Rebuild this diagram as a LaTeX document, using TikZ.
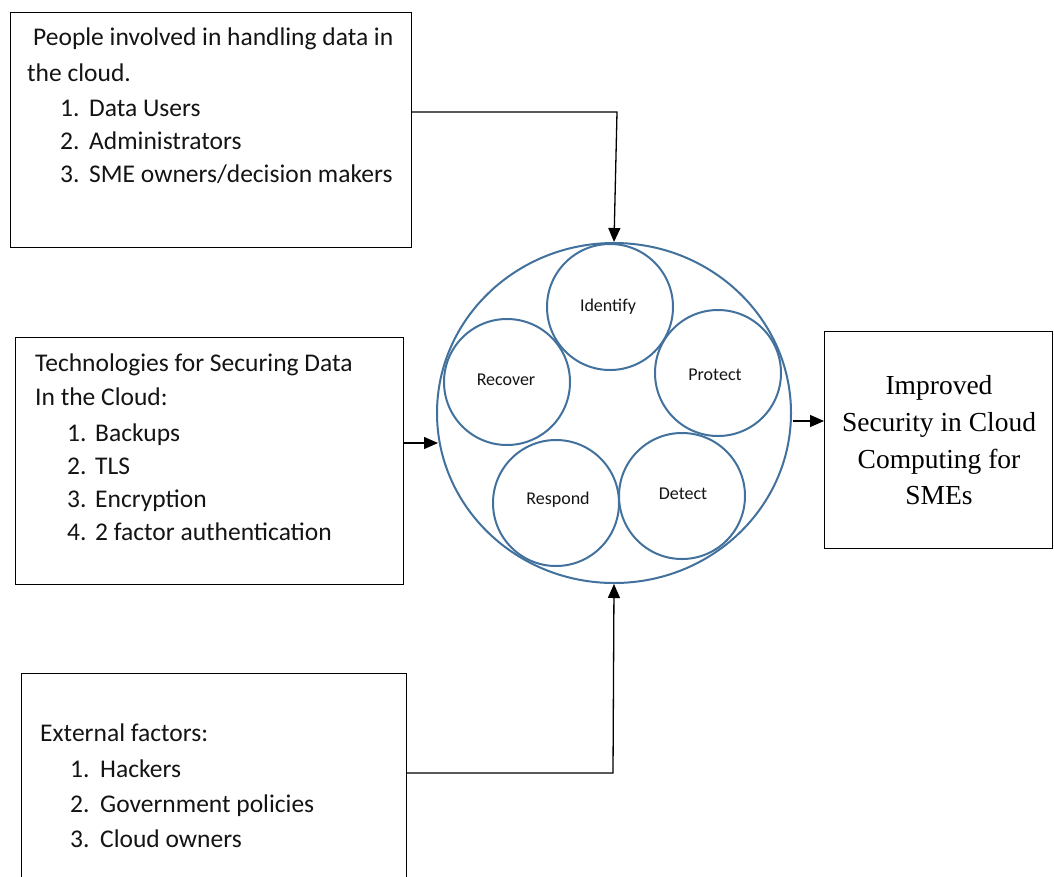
\documentclass[tikz,border=0pt]{standalone}
\usepackage{fontspec}
\setmainfont{Carlito}
\newfontfamily\timesf{Liberation Serif}
\usetikzlibrary{arrows.meta,shapes.geometric}
\definecolor{cblue}{RGB}{65,113,156}
\begin{document}
\begin{tikzpicture}[x=1pt,y=-1pt,
  box/.style={draw=black, line width=1.2pt, rectangle, inner sep=0pt, anchor=north west},
  txt/.style={anchor=base west, inner sep=0pt, font=\fontsize{25.5}{30}\selectfont, text=black!92},
  ring/.style={draw=cblue, line width=2pt, circle, minimum size=126pt, inner sep=0pt},
  lbl/.style={anchor=base, inner sep=0pt, font=\fontsize{18}{22}\selectfont, text=black!92},
  rtxt/.style={anchor=base, inner sep=0pt, font=\timesf\fontsize{27.5}{33}\selectfont},
  conn/.style={line width=1.3pt, draw=black},
  tip/.style={-{Triangle[length=14pt,width=12pt]}}
]
\useasboundingbox (0,0) rectangle (1054,876);
\clip (0,0) rectangle (1054,876);
\fill[white] (0,0) rectangle (1054,876);

% boxes
\node[box, minimum width=401pt, minimum height=235pt] (box1) at (10,12) {};
\node[box, minimum width=388pt, minimum height=247pt] (box2) at (15,337) {};
\node[box, minimum width=385pt, minimum height=250pt] (box3) at (21,673) {};
\node[box, minimum width=228pt, minimum height=217pt] (box4) at (824,331) {};

% big circle and small circles
\node[ellipse, draw=cblue, line width=2pt, minimum width=354pt, minimum height=340pt, inner sep=0pt] (core) at (614,413) {};
\node[ring] (cid) at (610,307) {};
\node[ring] (cpr) at (718,373) {};
\node[ring] (cde) at (682,496) {};
\node[ring] (cre) at (556,503) {};
\node[ring] (crc) at (507,382) {};

\node[lbl] (lid) at (608,311) {Identify};
\node[lbl] (lpr) at (715,380) {Protect};
\node[lbl] (lde) at (683,499) {Detect};
\node[lbl] (lre) at (558,504) {Respond};
\node[lbl] (lrc) at (506,385) {Recover};

% box 1 text
\node[txt] (a1) at (33,45) {People involved in handling data in};
\node[txt] (a2) at (27,81) {the cloud.};
\node[txt] (a3n) at (60,116) {1.};
\node[txt] (a3) at (89,116) {Data Users};
\node[txt] (a4n) at (60,149) {2.};
\node[txt] (a4) at (89,149) {Administrators};
\node[txt] (a5n) at (60,182) {3.};
\node[txt] (a5) at (89,182) {SME owners/decision makers};

% box 2 text
\node[txt] (b1) at (35,371) {Technologies for Securing Data};
\node[txt] (b2) at (35,405) {In the Cloud:};
\node[txt] (b3n) at (67,441) {1.};
\node[txt] (b3) at (95,441) {Backups};
\node[txt] (b4n) at (67,474) {2.};
\node[txt] (b4) at (95,474) {TLS};
\node[txt] (b5n) at (67,507) {3.};
\node[txt] (b5) at (95,507) {Encryption};
\node[txt] (b6n) at (67,540) {4.};
\node[txt] (b6) at (95,540) {2 factor authentication};

% box 3 text
\node[txt] (c1) at (40,741) {External factors:};
\node[txt] (c2n) at (70,777) {1.};
\node[txt] (c2) at (100,777) {Hackers};
\node[txt] (c3n) at (70,812) {2.};
\node[txt] (c3) at (100,812) {Government policies};
\node[txt] (c4n) at (70,847) {3.};
\node[txt] (c4) at (100,847) {Cloud owners};

% box 4 text
\node[rtxt] (d1) at (939,394) {Improved};
\node[rtxt] (d2) at (939,431) {Security in Cloud};
\node[rtxt] (d3) at (939,468) {Computing for};
\node[rtxt] (d4) at (939,504) {SMEs};

% connectors
\coordinate (tbend) at (617,112);
\draw[conn, tip] (box1.north east |- tbend) -- (tbend) -- (core.north);
\coordinate (lin) at (438,443);
\draw[conn, tip] (box2.north east |- lin) -- (lin);
\coordinate (rout) at (793,421);
\draw[conn, tip] (rout) -- (box4.west |- rout);
\coordinate (bbend) at (613,773);
\draw[conn, tip] (box3.north east |- bbend) -- (bbend) -- (core.south);
\end{tikzpicture}
\end{document}
